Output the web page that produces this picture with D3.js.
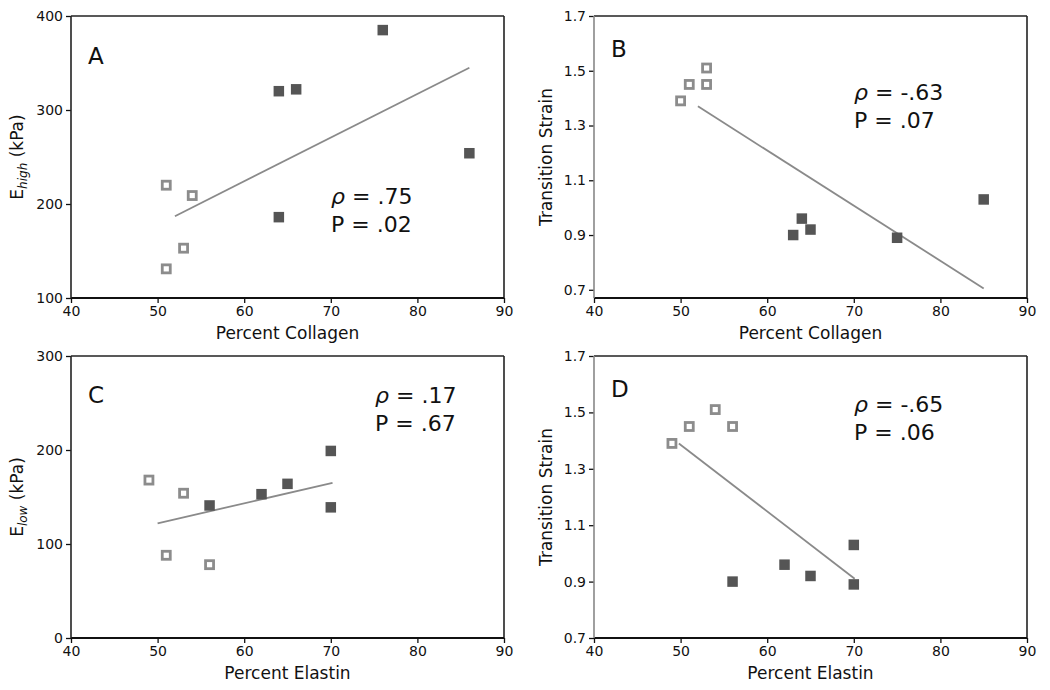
<!DOCTYPE html>
<html>
<head>
<meta charset="utf-8">
<script src="https://cdn.jsdelivr.net/npm/d3@7"></script>
<style>
  html, body { margin: 0; padding: 0; background: #ffffff; }
  svg { display: block; font-family: "DejaVu Sans", sans-serif; }
</style>
</head>
<body>
<svg id="chart" width="1050" height="690"></svg>
<script>
// ---------- data ----------
const xTicks = [40, 50, 60, 70, 80, 90];

// Panel A: Percent Collagen vs E_high
const collagenOpenA = [51, 54, 53, 51];
const eHighOpenA = [220, 209, 153, 131];
const collagenFilledA = [64, 66, 76, 86, 64];
const eHighFilledA = [320, 322, 385, 254, 186];
const fitXA = [52, 86];
const fitYA = [187, 345];
const yTicksA = [100, 200, 300, 400];

// Panel B: Percent Collagen vs Transition Strain
const collagenOpenB = [50, 51, 53, 53];
const strainOpenB = [1.39, 1.45, 1.51, 1.45];
const collagenFilledB = [63, 64, 65, 75, 85];
const strainFilledB = [0.90, 0.96, 0.92, 0.89, 1.03];
const fitXB = [52, 85];
const fitYB = [1.37, 0.705];
const yTicksB = [0.7, 0.9, 1.1, 1.3, 1.5, 1.7];

// Panel C: Percent Elastin vs E_low
const elastinOpenC = [49, 53, 51, 56];
const eLowOpenC = [168, 154, 88, 78];
const elastinFilledC = [56, 62, 65, 70, 70];
const eLowFilledC = [141, 153, 164, 199, 139];
const fitXC = [50, 70.2];
const fitYC = [122, 165];
const yTicksC = [0, 100, 200, 300];

// Panel D: Percent Elastin vs Transition Strain
const elastinOpenD = [49, 51, 54, 56];
const strainOpenD = [1.39, 1.45, 1.51, 1.45];
const elastinFilledD = [56, 62, 65, 70, 70];
const strainFilledD = [0.90, 0.96, 0.92, 1.03, 0.89];
const fitXD = [49.8, 70.1];
const fitYD = [1.39, 0.91];
const yTicksD = [0.7, 0.9, 1.1, 1.3, 1.5, 1.7];

const panelLetters = ["A", "B", "C", "D"];
const rhoTexts = [".75", "-.63", ".17", "-.65"];
const pTexts = [".02", ".07", ".67", ".06"];

// ---------- drawing ----------
const svg = d3.select("#chart");
const FILL = "#555555", OPEN = "#8c8c8c", LINE = "#8a8a8a";

function panel(cfg) {
  const x = d3.scaleLinear().domain([40, 90]).range([cfg.left, cfg.right]);
  const y = d3.scaleLinear().domain(cfg.yDomain).range([cfg.bottom, cfg.top]);
  const g = svg.append("g");

  // axes
  const xa = g.append("g").attr("transform", `translate(0,${cfg.bottom})`)
    .call(d3.axisBottom(x).tickValues(xTicks).tickSize(5).tickSizeOuter(0).tickPadding(3));
  const ya = g.append("g").attr("transform", `translate(${cfg.left},0)`)
    .call(d3.axisLeft(y).tickValues(cfg.yTicks).tickSize(5).tickSizeOuter(0).tickPadding(3)
      .tickFormat(cfg.yFormat));
  [xa, ya].forEach(a => {
    a.selectAll("text").attr("font-size", 14).attr("fill", "#111").attr("font-family", "DejaVu Sans, sans-serif");
    a.selectAll(".tick line").attr("stroke", "#111").attr("stroke-width", 1.3);
    a.select(".domain").remove();
  });

  // frame
  g.append("line").attr("x1", cfg.left).attr("x2", cfg.right).attr("y1", cfg.top).attr("y2", cfg.top)
    .attr("stroke", "#222").attr("stroke-width", 1.6);
  g.append("line").attr("x1", cfg.right).attr("x2", cfg.right).attr("y1", cfg.top).attr("y2", cfg.bottom)
    .attr("stroke", "#222").attr("stroke-width", 1.6);
  g.append("line").attr("x1", cfg.left).attr("x2", cfg.right).attr("y1", cfg.bottom).attr("y2", cfg.bottom)
    .attr("stroke", "#111").attr("stroke-width", 2);
  g.append("line").attr("x1", cfg.left).attr("x2", cfg.left).attr("y1", cfg.top).attr("y2", cfg.bottom)
    .attr("stroke", cfg.leftSpine).attr("stroke-width", 1.6);

  // fit line
  g.append("line")
    .attr("x1", x(cfg.fitX[0])).attr("y1", y(cfg.fitY[0]))
    .attr("x2", x(cfg.fitX[1])).attr("y2", y(cfg.fitY[1]))
    .attr("stroke", LINE).attr("stroke-width", 1.8);

  // open markers
  const open = cfg.openX.map((v, i) => [v, cfg.openY[i]]);
  g.selectAll(".open").data(open).enter().append("rect")
    .attr("x", d => x(d[0]) - 4).attr("y", d => y(d[1]) - 4)
    .attr("width", 8).attr("height", 8)
    .attr("fill", "#ffffff").attr("stroke", OPEN).attr("stroke-width", 2.8);

  // filled markers
  const filled = cfg.filledX.map((v, i) => [v, cfg.filledY[i]]);
  g.selectAll(".filled").data(filled).enter().append("rect")
    .attr("x", d => x(d[0]) - 5.25).attr("y", d => y(d[1]) - 5.25)
    .attr("width", 10.5).attr("height", 10.5)
    .attr("fill", FILL);

  // panel letter
  g.append("text").attr("x", cfg.left + cfg.letterDx).attr("y", cfg.top + cfg.letterDy)
    .attr("font-size", 23).attr("fill", "#111").text(cfg.letter);

  // annotation
  const t1 = g.append("text").attr("x", cfg.annX).attr("y", cfg.annY)
    .attr("font-size", 22).attr("fill", "#111");
  t1.append("tspan").attr("font-style", "italic").text("ρ");
  t1.append("tspan").text(" = " + cfg.rho);
  g.append("text").attr("x", cfg.annX).attr("y", cfg.annY + 28)
    .attr("font-size", 22).attr("fill", "#111").text("P = " + cfg.p);

  // x label
  g.append("text").attr("x", (cfg.left + cfg.right) / 2).attr("y", cfg.bottom + 41)
    .attr("text-anchor", "middle").attr("font-size", 17).attr("fill", "#111").text(cfg.xLabel);

  // y label
  const yl = g.append("text")
    .attr("transform", `translate(${cfg.yLabelX},${(cfg.top + cfg.bottom) / 2}) rotate(-90)`)
    .attr("text-anchor", "middle").attr("font-size", 17).attr("fill", "#111");
  if (cfg.ySub) {
    yl.append("tspan").text("E");
    yl.append("tspan").attr("font-size", 12).attr("font-style", "italic").attr("dy", 4).text(cfg.ySub);
    yl.append("tspan").attr("dy", -4).text(" (kPa)");
  } else {
    yl.text(cfg.yLabel);
  }
}

const fmtInt = d3.format("d");
const fmt1 = d3.format(".1f");

panel({ left: 71, right: 504, top: 16, bottom: 298, yDomain: [100, 400], yTicks: yTicksA, yFormat: fmtInt,
  openX: collagenOpenA, openY: eHighOpenA, filledX: collagenFilledA, filledY: eHighFilledA,
  fitX: fitXA, fitY: fitYA, letter: panelLetters[0], letterDx: 17, letterDy: 48,
  rho: rhoTexts[0], p: pTexts[0], annX: 331, annY: 204,
  xLabel: "Percent Collagen", ySub: "high", yLabelX: 23, leftSpine: "#222" });

panel({ left: 594, right: 1027, top: 16, bottom: 298, yDomain: [0.67, 1.7], yTicks: yTicksB, yFormat: fmt1,
  openX: collagenOpenB, openY: strainOpenB, filledX: collagenFilledB, filledY: strainFilledB,
  fitX: fitXB, fitY: fitYB, letter: panelLetters[1], letterDx: 17, letterDy: 41,
  rho: rhoTexts[1], p: pTexts[1], annX: 854, annY: 100,
  xLabel: "Percent Collagen", yLabel: "Transition Strain", yLabelX: 552, leftSpine: "#888" });

panel({ left: 71, right: 504, top: 356, bottom: 638, yDomain: [0, 300], yTicks: yTicksC, yFormat: fmtInt,
  openX: elastinOpenC, openY: eLowOpenC, filledX: elastinFilledC, filledY: eLowFilledC,
  fitX: fitXC, fitY: fitYC, letter: panelLetters[2], letterDx: 17, letterDy: 47,
  rho: rhoTexts[2], p: pTexts[2], annX: 375, annY: 403,
  xLabel: "Percent Elastin", ySub: "low", yLabelX: 23, leftSpine: "#222" });

panel({ left: 594, right: 1027, top: 356, bottom: 638, yDomain: [0.7, 1.7], yTicks: yTicksD, yFormat: fmt1,
  openX: elastinOpenD, openY: strainOpenD, filledX: elastinFilledD, filledY: strainFilledD,
  fitX: fitXD, fitY: fitYD, letter: panelLetters[3], letterDx: 17, letterDy: 41,
  rho: rhoTexts[3], p: pTexts[3], annX: 854, annY: 412,
  xLabel: "Percent Elastin", yLabel: "Transition Strain", yLabelX: 552, leftSpine: "#888" });
</script>
</body>
</html>
